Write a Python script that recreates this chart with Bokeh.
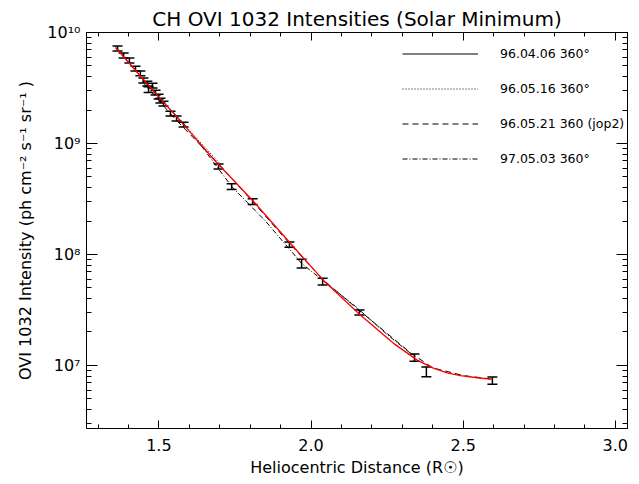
from bokeh.plotting import figure
from bokeh.models import (FixedTicker, LogAxis, LinearAxis, Whisker, TeeHead,
                          ColumnDataSource, Legend, LegendItem,
                          CustomJSTickFormatter, PrintfTickFormatter, Range1d)
from bokeh.embed import file_html
from bokeh.resources import INLINE

# ---------------- data ----------------
meas_r = [1.364, 1.384, 1.403, 1.423, 1.439, 1.449, 1.462, 1.466, 1.479, 1.489,
          1.499, 1.505, 1.515, 1.538, 1.558, 1.581, 1.696, 1.739, 1.808, 1.929,
          1.969, 2.038, 2.159, 2.340, 2.379, 2.596]
meas_i = [7.18e9, 6.21e9, 5.60e9, 4.74e9, 4.28e9, 3.70e9, 3.47e9, 3.06e9, 3.33e9, 2.88e9,
          2.65e9, 2.44e9, 2.29e9, 1.86e9, 1.68e9, 1.48e9, 6.21e8, 4.10e8, 3.00e8, 1.23e8,
          8.3e7, 5.7e7, 3.0e7, 1.18e7, 8.8e6, 7.3e6]
meas_err = [0.05, 0.05, 0.05, 0.05, 0.05, 0.05, 0.05, 0.06, 0.05, 0.05,
            0.05, 0.05, 0.05, 0.05, 0.05, 0.05, 0.05, 0.06, 0.06, 0.055,
            0.09, 0.07, 0.05, 0.075, 0.10, 0.075]

fit_r = [1.357, 1.472, 1.587, 1.679, 1.808, 1.932, 2.041, 2.160, 2.271, 2.350,
         2.402, 2.447, 2.491, 2.546, 2.596]
fit_i = [7.33e9, 3.20e9, 1.42e9, 7.24e8, 3.06e8, 1.26e8, 5.83e7, 2.88e7, 1.58e7, 1.11e7,
         9.44e6, 8.55e6, 8.09e6, 7.74e6, 7.48e6]

s1_r = [1.36, 1.47, 1.59]
s1_i = [7.3e9, 3.2e9, 1.42e9]
s2_r = [1.38, 1.50, 1.70]
s2_i = [6.3e9, 2.6e9, 6.6e8]
s3_r = [1.45, 1.55, 1.70, 1.81, 1.93, 2.04, 2.16, 2.33, 2.40, 2.50, 2.60]
s3_i = [3.5e9, 1.7e9, 6.4e8, 2.95e8, 1.25e8, 5.9e7, 3.1e7, 1.28e7, 9.5e6, 8.1e6, 7.5e6]
s4_r = [1.62, 1.739, 1.85, 1.969, 2.05, 2.146, 2.25, 2.34]
s4_i = [1.12e9, 4.1e8, 2.0e8, 8.3e7, 5.5e7, 3.4e7, 1.9e7, 1.2e7]

series_labels = ["96.04.06 360\u00b0", "96.05.16 360\u00b0",
                 "96.05.21 360 (jop2)", "97.05.03 360\u00b0"]
x_major = [1.5, 2.0, 2.5, 3.0]
x_minor = [1.3, 1.4, 1.6, 1.7, 1.8, 1.9, 2.1, 2.2, 2.3, 2.4, 2.6, 2.7, 2.8, 2.9, 3.0]
y_major = [1e7, 1e8, 1e9, 1e10]
y_minor = [m * 10.0 ** e for e in range(6, 10) for m in range(2, 10)]

FONT = "DejaVu Sans"

p = figure(width=639, height=484, output_backend="svg", toolbar_location=None,
           y_axis_type="log", x_range=Range1d(1.262, 3.04),
           y_range=Range1d(2.7e6, 1.0e10),
           min_border_left=86, min_border_right=12, min_border_top=32,
           min_border_bottom=56)
p.title.text = "CH OVI 1032 Intensities (Solar Minimum)"
p.title.align = "center"
p.title.text_font = FONT
p.title.text_font_size = "20px"
p.title.text_font_style = "normal"
p.title.text_color = "black"
p.title.standoff = 4
p.grid.visible = False
p.outline_line_color = "black"
p.background_fill_color = "white"
p.border_fill_color = "white"

sup_js = """
const s = {'0':'\u2070','1':'\u00b9','2':'\u00b2','3':'\u00b3','4':'\u2074','5':'\u2075','6':'\u2076','7':'\u2077','8':'\u2078','9':'\u2079','-':'\u207b'};
const e = Math.round(Math.log10(tick));
return '10' + String(e).split('').map(c => s[c]).join('');
"""


def style_common(ax, labels):
    ax.major_tick_out = 0
    ax.minor_tick_out = 0
    ax.axis_line_color = "black"
    ax.major_tick_line_color = "black"
    ax.minor_tick_line_color = "black"
    ax.major_label_text_font = FONT
    ax.major_label_text_font_size = "16px"
    ax.major_label_text_color = "black"
    ax.axis_label_text_color = "black"
    if not labels:
        ax.major_label_text_font_size = "1px"
        ax.formatter = CustomJSTickFormatter(code="return ''")


def style_x(ax, labels=True):
    ax.ticker = FixedTicker(ticks=x_major, minor_ticks=x_minor)
    ax.major_tick_in = 8
    ax.minor_tick_in = 4
    ax.major_label_standoff = 10
    if labels:
        ax.formatter = PrintfTickFormatter(format="%.1f")
    style_common(ax, labels)


def style_y(ax, labels=True):
    ax.ticker = FixedTicker(ticks=y_major, minor_ticks=y_minor)
    ax.major_tick_in = 11
    ax.minor_tick_in = 5
    ax.major_label_standoff = 6
    if labels:
        ax.formatter = CustomJSTickFormatter(code=sup_js)
    style_common(ax, labels)


xa = p.xaxis[0]
style_x(xa)
xa.axis_label = "Heliocentric Distance (R\u2609)"
xa.axis_label_text_font = FONT
xa.axis_label_text_font_size = "16px"
xa.axis_label_text_font_style = "normal"
xa.axis_label_standoff = 4

ya = p.yaxis[0]
style_y(ya)
ya.axis_label = "OVI 1032 Intensity (ph cm\u207b\u00b2 s\u207b\u00b9 sr\u207b\u00b9 )"
ya.axis_label_text_font = FONT
ya.axis_label_text_font_size = "16px"
ya.axis_label_text_font_style = "normal"
ya.axis_label_standoff = 9

top = LinearAxis()
style_x(top, labels=False)
p.add_layout(top, "above")
right = LogAxis()
style_y(right, labels=False)
p.add_layout(right, "right")

# series lines
r1 = p.line(s1_r, s1_i, line_color="black", line_width=1)
r2 = p.line(s2_r, s2_i, line_color="black", line_width=1, line_dash="1 2")
r3 = p.line(s3_r, s3_i, line_color="black", line_width=1, line_dash="6 4")
r4 = p.line(s4_r, s4_i, line_color="black", line_width=1, line_dash="5 2 1 2")

# fit curve
p.line(fit_r, fit_i, line_color="red", line_width=1.3)

# error bars
upper = [v * (1 + e) for v, e in zip(meas_i, meas_err)]
lower = [v * (1 - e) for v, e in zip(meas_i, meas_err)]
src = ColumnDataSource(dict(r=meas_r, up=upper, lo=lower))
wh = Whisker(source=src, base="r", upper="up", lower="lo", dimension="height",
             line_color="black", line_width=1.5,
             upper_head=TeeHead(size=10, line_color="black", line_width=1.5),
             lower_head=TeeHead(size=10, line_color="black", line_width=1.5))
p.add_layout(wh)

legend = Legend(items=[LegendItem(label=series_labels[0], renderers=[r1]),
                       LegendItem(label=series_labels[1], renderers=[r2]),
                       LegendItem(label=series_labels[2], renderers=[r3]),
                       LegendItem(label=series_labels[3], renderers=[r4])],
                location=(316, 262), padding=0, margin=0,
                glyph_width=76, glyph_height=13, label_height=13,
                label_standoff=22, spacing=20,
                label_text_font=FONT, label_text_font_size="12.5px",
                label_text_color="black",
                background_fill_alpha=0, border_line_alpha=0)
p.add_layout(legend)

open("out.html", "w").write(file_html(p, INLINE))
